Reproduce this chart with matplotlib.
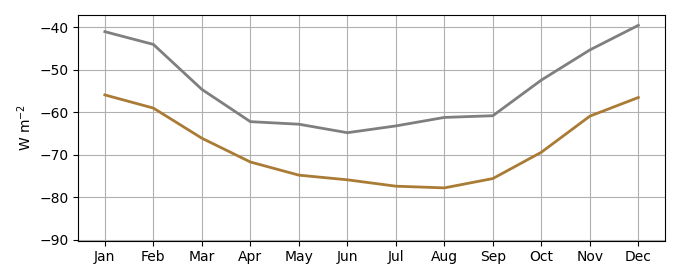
import matplotlib
matplotlib.use("Agg")
import matplotlib.pyplot as plt

months = ["Jan", "Feb", "Mar", "Apr", "May", "Jun", "Jul", "Aug", "Sep", "Oct", "Nov", "Dec"]
grey_vals = [-41.0, -44.0, -54.6, -62.2, -62.8, -64.8, -63.2, -61.2, -60.8, -52.4, -45.3, -39.5]
brown_vals = [-55.9, -59.0, -66.1, -71.7, -74.8, -75.9, -77.4, -77.8, -75.6, -69.4, -60.9, -56.5]

fig = plt.figure(figsize=(6.8, 2.8), dpi=100)
ax = fig.add_axes([0.115, 0.141, 0.863, 0.805])
x = range(len(months))
ax.plot(x, grey_vals, color="#7f7f7f", lw=2)
ax.plot(x, brown_vals, color="#a97b35", lw=2)
ax.set_xticks(list(x))
ax.set_xticklabels(months)
ax.set_ylim(-90.2, -37.1)
ax.set_yticks([-90, -80, -70, -60, -50, -40])
ax.set_ylabel("W m$^{-2}$")
ax.grid(True, color="#b0b0b0")
ax.set_axisbelow(True)
fig.savefig("out.png", dpi=100)
